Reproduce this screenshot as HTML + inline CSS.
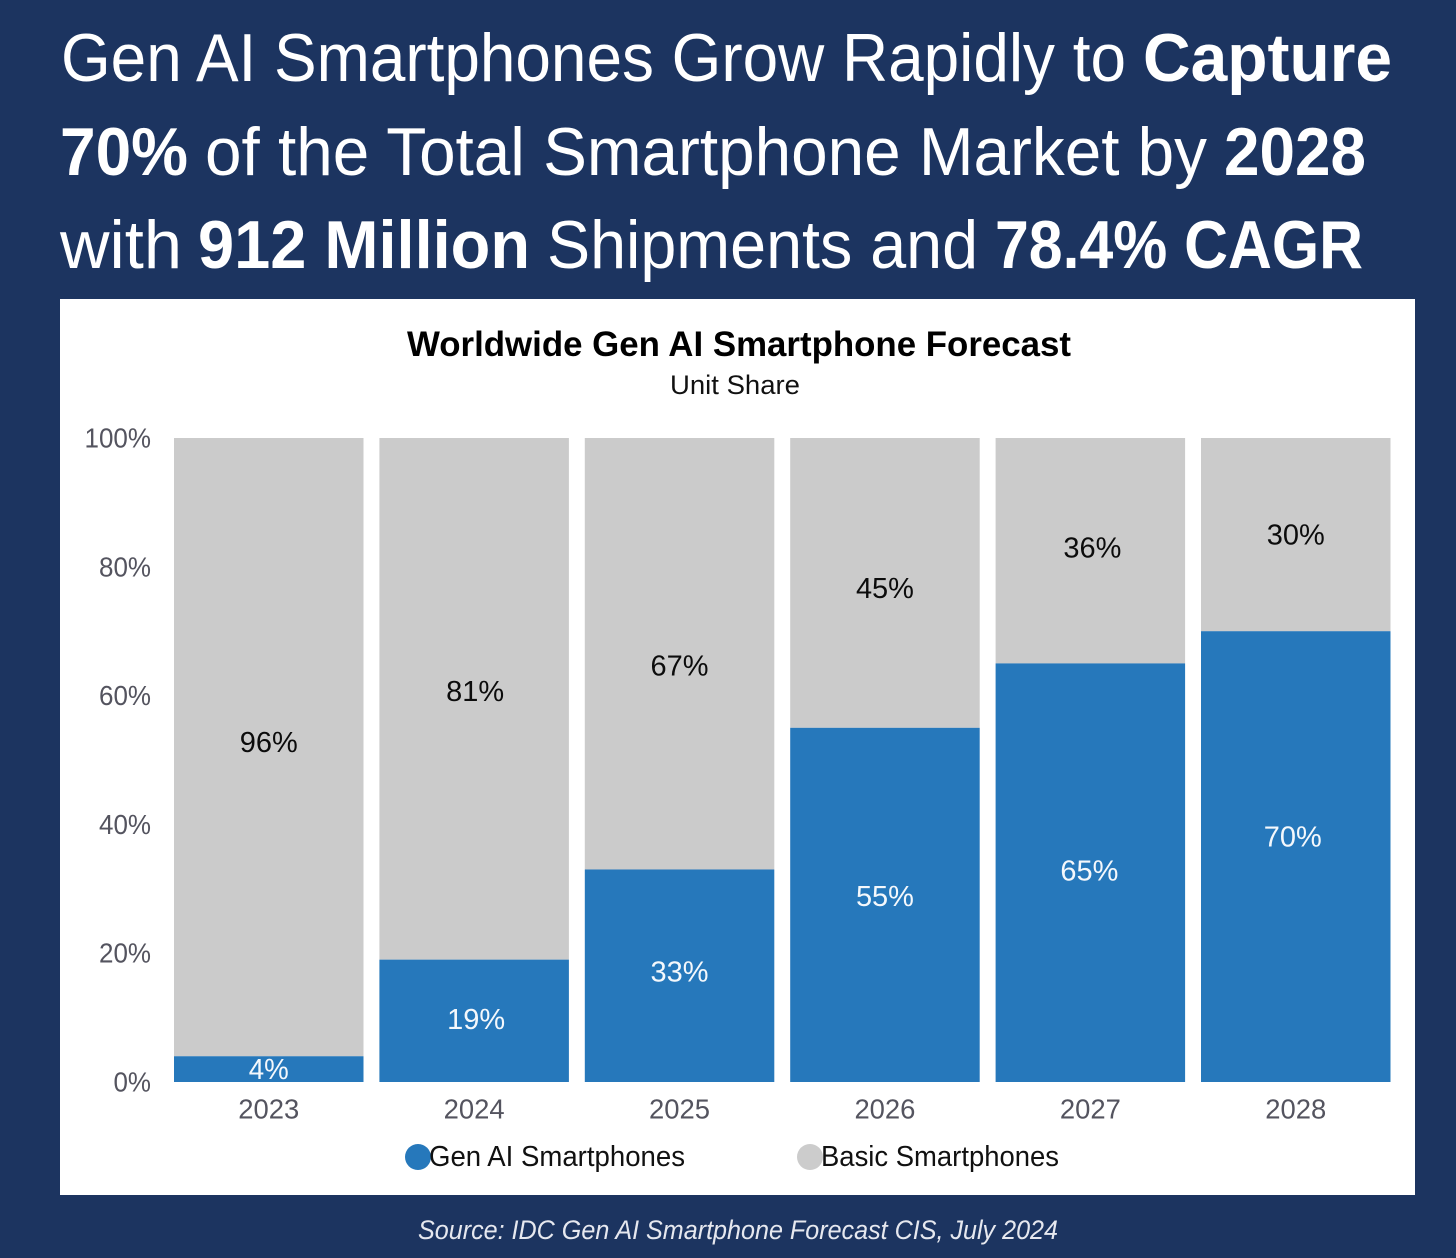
<!DOCTYPE html>
<html lang="en">
<head>
<meta charset="utf-8">
<title>Worldwide Gen AI Smartphone Forecast</title>
<style>
html,body{margin:0;padding:0;background:#1c3460;}
body{width:1456px;height:1258px;overflow:hidden;}
svg{display:block;font-family:"Liberation Sans",sans-serif;}
</style>
</head>
<body>
<svg id="page" xmlns="http://www.w3.org/2000/svg" width="1456" height="1258" viewBox="0 0 1456 1258">
  <rect x="0" y="0" width="1456" height="1258" fill="#1c3460"/>
  <g fill="#ffffff" font-size="68">
    <text x="61" y="81" textLength="1065" lengthAdjust="spacingAndGlyphs">Gen AI Smartphones Grow Rapidly to</text>
    <text x="1143" y="81" font-weight="700" textLength="249" lengthAdjust="spacingAndGlyphs">Capture</text>
    <text x="60" y="175" font-weight="700" textLength="128" lengthAdjust="spacingAndGlyphs">70%</text>
    <text x="205" y="175" textLength="1002" lengthAdjust="spacingAndGlyphs">of the Total Smartphone Market by</text>
    <text x="1224" y="175" font-weight="700" textLength="142" lengthAdjust="spacingAndGlyphs">2028</text>
    <text x="60" y="268" textLength="122" lengthAdjust="spacingAndGlyphs">with</text>
    <text x="198" y="268" font-weight="700" textLength="332" lengthAdjust="spacingAndGlyphs">912 Million</text>
    <text x="547" y="268" textLength="431" lengthAdjust="spacingAndGlyphs">Shipments and</text>
    <text x="995" y="268" font-weight="700" textLength="368" lengthAdjust="spacingAndGlyphs">78.4% CAGR</text>
  </g>
  <rect x="60" y="299" width="1355" height="896" fill="#ffffff"/>
  <text x="407" y="356" font-size="35" font-weight="700" fill="#000000" textLength="664" lengthAdjust="spacingAndGlyphs">Worldwide Gen AI Smartphone Forecast</text>
  <text x="670" y="394" font-size="27" fill="#111111" textLength="130" lengthAdjust="spacingAndGlyphs">Unit Share</text>
  <g id="y-axis"></g>
  <g id="bars"></g>
  <g id="labels"></g>
  <g id="x-axis"></g>
  <g>
    <g>
      <circle cx="418" cy="1157" r="13" fill="#2678bb"/>
      <text x="429" y="1166" font-size="29" fill="#111111" textLength="256" lengthAdjust="spacingAndGlyphs">Gen AI Smartphones</text>
    </g>
    <g>
      <circle cx="810" cy="1157" r="13" fill="#cccccc"/>
      <text x="821" y="1166" font-size="29" fill="#111111" textLength="238" lengthAdjust="spacingAndGlyphs">Basic Smartphones</text>
    </g>
  </g>
  <text x="418" y="1239" font-size="27" font-style="italic" fill="#e6e8ef" textLength="640" lengthAdjust="spacingAndGlyphs">Source: IDC Gen AI Smartphone Forecast CIS, July 2024</text>
</svg>
<script>
const categories = ['2023', '2024', '2025', '2026', '2027', '2028'];
const genAiShare = [4, 19, 33, 55, 65, 70];
const basicShare = [96, 81, 67, 45, 36, 30];
const yTickValues = [0, 20, 40, 60, 80, 100];

// Hand-placed label offsets seen in the original, in px relative to segment centres.
const genNudgeY = [0, -2, -4, -9, -2, -20];
const genNudgeX = [0, 2, 0, 0, -1, -3];
const basicNudgeY = [-5, -8, 12, 5, 0, 0];
const basicNudgeX = [0, 1, 0, 0, 2, 0];

const NS = 'http://www.w3.org/2000/svg';
function yScale(v) { return 1082 - (v / 100) * 644; }
function xBand(i) { return 174 + i * 205.4; }
const bandWidth = 189.5;
function make(tag, attrs, parent, txt) {
  const el = document.createElementNS(NS, tag);
  Object.keys(attrs).forEach(function (k) { el.setAttribute(k, attrs[k]); });
  if (txt !== undefined) el.textContent = txt;
  parent.appendChild(el);
  return el;
}
function labelWidth(s) { return s.length * 18 + 4; }

const yAxis = document.getElementById('y-axis');
const xAxis = document.getElementById('x-axis');
const bars = document.getElementById('bars');
const labels = document.getElementById('labels');

yTickValues.forEach(function (t) {
  const s = t + '%';
  const el = make('text', {
    x: 151, y: yScale(t) + 9.5, 'text-anchor': 'end', 'font-size': 28, fill: '#54545f',
    textLength: s.length * 14.5 + 8.5, lengthAdjust: 'spacingAndGlyphs'
  }, yAxis, s);
  
  
});

categories.forEach(function (cat, i) {
  const x = xBand(i);
  const cx = x + bandWidth / 2;
  const basicTop = genAiShare[i] + basicShare[i];

  const basicBar = make('rect', {
    x: x, y: yScale(Math.min(basicTop, 100)), width: bandWidth,
    height: yScale(genAiShare[i]) - yScale(Math.min(basicTop, 100)), fill: '#cbcbcb'
  }, bars);
  
  

  const genBar = make('rect', {
    x: x, y: yScale(genAiShare[i]), width: bandWidth,
    height: yScale(0) - yScale(genAiShare[i]), fill: '#2678bb'
  }, bars);
  
  

  const genText = genAiShare[i] + '%';
  const genLabel = make('text', {
    x: cx + genNudgeX[i], y: yScale(genAiShare[i] / 2) + genNudgeY[i] + 10,
    'text-anchor': 'middle', 'font-size': 29, fill: '#f4f8fc',
    textLength: labelWidth(genText), lengthAdjust: 'spacingAndGlyphs'
  }, labels, genText);
  
  

  const basicText = basicShare[i] + '%';
  const basicLabel = make('text', {
    x: cx + basicNudgeX[i], y: yScale(genAiShare[i] + basicShare[i] / 2) + basicNudgeY[i] + 10,
    'text-anchor': 'middle', 'font-size': 29, fill: '#0c0c0c',
    textLength: labelWidth(basicText), lengthAdjust: 'spacingAndGlyphs'
  }, labels, basicText);
  
  

  const tick = make('text', {
    x: cx, y: 1118.5, 'text-anchor': 'middle', 'font-size': 28, fill: '#54545f',
    textLength: 61, lengthAdjust: 'spacingAndGlyphs'
  }, xAxis, cat);
  
  
});
</script>
</body>
</html>
